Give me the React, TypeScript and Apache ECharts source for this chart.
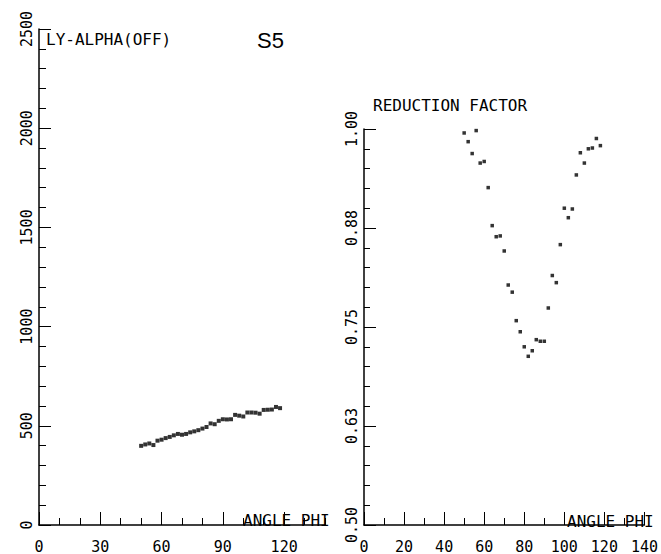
import React, { useEffect, useRef } from "react";
import * as echarts from "echarts";

const angles = [50, 52, 54, 56, 58, 60, 62, 64, 66, 68, 70, 72, 74, 76, 78, 80, 82, 84, 86, 88, 90, 92, 94, 96, 98, 100, 102, 104, 106, 108, 110, 112, 114, 116, 118];

const lyAlphaOff = [399, 406, 411, 403, 425, 430, 438, 444, 452, 459, 455, 459, 467, 472, 478, 486, 494, 512, 508, 525, 533, 532, 533, 555, 551, 547, 567, 567, 566, 561, 580, 581, 582, 595, 589];

const reductionFactor = [0.995, 0.984, 0.969, 0.998, 0.957, 0.959, 0.926, 0.878, 0.864, 0.865, 0.846, 0.803, 0.794, 0.758, 0.744, 0.725, 0.713, 0.72, 0.734, 0.732, 0.732, 0.774, 0.815, 0.806, 0.854, 0.9, 0.888, 0.899, 0.942, 0.97, 0.957, 0.975, 0.976, 0.988, 0.979];

const leftXLabels = [0, 30, 60, 90, 120];

const MONO = "DejaVu Sans Mono";

export default function App() {
  const ref = useRef<HTMLDivElement>(null);
  useEffect(() => {
    if (!ref.current) return;
    const chart = echarts.init(ref.current, null, { renderer: "svg" });
    const black = "#000";
    const lineStyle = { color: black, width: 1.5 };
    const tickStyle = { color: black, width: 1 };
    const labelX = { color: black, fontFamily: MONO, fontSize: 15, margin: 14 };
    const labelY = { color: black, fontFamily: MONO, fontSize: 15, margin: 5, rotate: 90 };

    const option: any = {
      animation: false,
      backgroundColor: "#fff",
      grid: [
        { left: 39, top: 29, width: 286, height: 503 },
        { left: 364, top: 129, width: 285, height: 403 },
      ],
      xAxis: [
        {
          gridIndex: 0, type: "value", position: "bottom", min: 0, max: 140, interval: 10,
          axisLine: { show: true, lineStyle },
          axisTick: { show: true, inside: true, length: 13, customValues: leftXLabels, lineStyle: tickStyle },
          axisLabel: { ...labelX, customValues: leftXLabels },
          splitLine: { show: false },
        },
        {
          gridIndex: 0, type: "value", position: "bottom", min: 0, max: 140, interval: 10,
          axisLine: { show: false },
          axisTick: { show: true, inside: true, length: 7, lineStyle: tickStyle },
          axisLabel: { show: false },
          splitLine: { show: false },
        },
        {
          gridIndex: 1, type: "value", position: "bottom", min: 0, max: 140, interval: 20,
          axisLine: { show: true, lineStyle },
          axisTick: { show: true, inside: true, length: 13, lineStyle: tickStyle },
          minorTick: { show: true, splitNumber: 2, length: 7, lineStyle: tickStyle },
          axisLabel: labelX,
          splitLine: { show: false },
        },
      ],
      yAxis: [
        {
          gridIndex: 0, type: "value", min: 0, max: 2500, interval: 500,
          axisLine: { show: true, lineStyle },
          axisTick: { show: true, inside: true, length: 12, lineStyle: tickStyle },
          minorTick: { show: true, splitNumber: 5, length: 7, lineStyle: tickStyle },
          axisLabel: { ...labelY, formatter: (v: number) => String(v) },
          splitLine: { show: false },
        },
        {
          gridIndex: 1, type: "value", min: 0.5, max: 1.0, interval: 0.125,
          axisLine: { show: true, lineStyle },
          axisTick: { show: true, inside: true, length: 12, lineStyle: tickStyle },
          minorTick: { show: true, splitNumber: 5, length: 6, lineStyle: tickStyle },
          axisLabel: { ...labelY, formatter: (v: number) => v.toFixed(2) },
          splitLine: { show: false },
        },
      ],
      series: [
        {
          type: "scatter", xAxisIndex: 0, yAxisIndex: 0,
          symbol: "rect", symbolSize: 4,
          itemStyle: { color: black },
          data: angles.map((a, i) => [a, lyAlphaOff[i]]),
        },
        {
          type: "scatter", xAxisIndex: 2, yAxisIndex: 1,
          symbol: "rect", symbolSize: 3.5,
          itemStyle: { color: black },
          data: angles.map((a, i) => [a, reductionFactor[i]]),
        },
      ],
      graphic: [
        { type: "text", left: 46, top: 31, style: { text: "LY-ALPHA(OFF)", fontFamily: MONO, fontSize: 16, fill: black } },
        { type: "text", left: 257, top: 29, style: { text: "S5", fontFamily: "Liberation Sans", fontSize: 22, fill: black } },
        { type: "text", left: 373, top: 97, style: { text: "REDUCTION FACTOR", fontFamily: MONO, fontSize: 16, fill: black } },
        { type: "text", left: 243, top: 512, style: { text: "ANGLE PHI", fontFamily: MONO, fontSize: 16, fill: black } },
        { type: "text", left: 567, top: 513, style: { text: "ANGLE PHI", fontFamily: MONO, fontSize: 16, fill: black } },
      ],
    };
    chart.setOption(option);
    return () => chart.dispose();
  }, []);
  return (
    <div
      ref={ref}
      style={{ position: "fixed", left: 0, top: 0, width: 661, height: 554, background: "#fff" }}
    />
  );
}
